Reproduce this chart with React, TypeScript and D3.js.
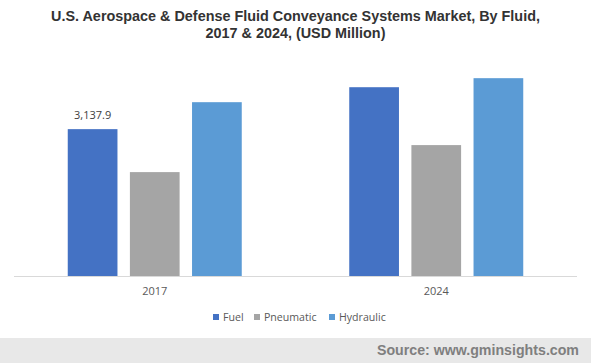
import React from "react";
import * as d3 from "d3";

// Values (USD Million)
const years = ["2017", "2024"];
const fluids = ["Fuel", "Pneumatic", "Hydraulic"];
const fuel = [3137.9, 4034];
const pneumatic = [2220, 2797];
const hydraulic = [3714, 4227];
const colors = ["#4472c4", "#a5a5a5", "#5b9bd5"];

const W = 591;
const H = 363;

export default function App() {
  const margin = { top: 42, left: 14, right: 14, bottom: 87 };
  const baseline = H - margin.bottom;

  const series = [fuel, pneumatic, hydraulic];

  const x0 = d3.scaleBand().domain(years).range([margin.left, W - margin.right]);
  const x1 = d3
    .scaleBand()
    .domain(fluids)
    .range([0, 174])
    .paddingInner(0.2);
  const y = d3.scaleLinear().domain([0, 5000]).range([baseline, margin.top]);

  const fmt = d3.format(",.1f");

  // legend layout
  const legendX = [213, 254, 329];

  return (
    <div style={{ position: "absolute", left: 0, top: 0 }}>
      <svg width={W} height={H} style={{ display: "block" }}>
        <rect width={W} height={H} fill="#ffffff" />
        <g fontFamily="Liberation Sans, Arial, sans-serif" fontWeight="bold" fontSize={14.4} fill="#333333" textAnchor="middle">
          <text x={W / 2} y={21}>U.S. Aerospace &amp; Defense Fluid Conveyance Systems Market, By Fluid,</text>
          <text x={W / 2} y={38}>2017 &amp; 2024, (USD Million)</text>
        </g>

        {years.map((yr, i) => {
          const cx = x0(yr)! + x0.bandwidth() / 2;
          const gx = cx - 87;
          return (
            <g key={yr} transform={`translate(${gx},0)`}>
              {fluids.map((f, j) => (
                <rect
                  key={f}
                  x={x1(f)}
                  y={y(series[j][i])}
                  width={x1.bandwidth()}
                  height={baseline - y(series[j][i])}
                  fill={colors[j]}
                />
              ))}
            </g>
          );
        })}

        <line x1={margin.left} x2={W - margin.right} y1={baseline + 0.5} y2={baseline + 0.5} stroke="#d9d9d9" />

        {/* data label on Fuel 2017 */}
        <text
          x={x0("2017")! + x0.bandwidth() / 2 - 87 + x1("Fuel")! + x1.bandwidth() / 2}
          y={y(fuel[0]) - 10}
          textAnchor="middle"
          fontFamily="Open Sans, sans-serif"
          fontSize={11}
          fill="#404040"
        >
          {fmt(fuel[0])}
        </text>

        {years.map((yr) => (
          <text
            key={yr}
            x={x0(yr)! + x0.bandwidth() / 2}
            y={baseline + 19}
            textAnchor="middle"
            fontFamily="Open Sans, sans-serif"
            fontSize={11}
            fill="#595959"
          >
            {yr}
          </text>
        ))}

        {fluids.map((f, j) => (
          <g key={f} transform={`translate(${legendX[j]},314)`}>
            <rect width={6} height={6} fill={colors[j]} />
            <text x={10} y={7} fontFamily="Open Sans, sans-serif" fontSize={10.6} fill="#595959">
              {f}
            </text>
          </g>
        ))}

        <rect x={0} y={338} width={W} height={H - 338} fill="#e8e8e8" />
        <text
          x={579}
          y={355}
          textAnchor="end"
          fontFamily="Liberation Sans, Arial, sans-serif"
          fontWeight="bold"
          fontSize={14.2}
          fill="#7f7f7f"
        >
          Source: www.gminsights.com
        </text>
      </svg>
    </div>
  );
}
